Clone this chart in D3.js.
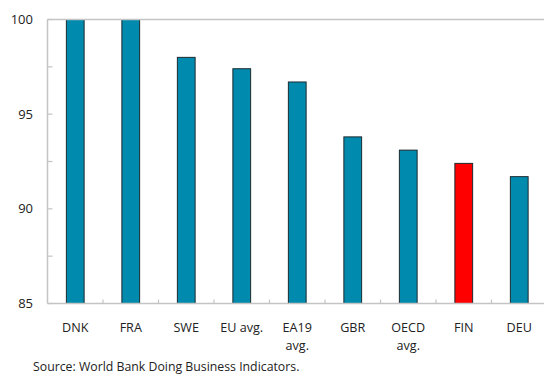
<!DOCTYPE html>
<html lang="en">
<head>
    <meta charset="UTF-8">
    <title>Ranking</title>
    <script src="https://d3js.org/d3.v7.min.js"></script>
    <style>
        body { margin: 0; background: #fff; }
        text { font-family: "Open Sans", sans-serif; fill: #222; }
    </style>
</head>
<body>
    <div id="plot"></div>

    <script>
        // data
        let categories = ['DNK', 'FRA', 'SWE', 'EU avg.', 'EA19 avg.', 'GBR', 'OECD avg.', 'FIN', 'DEU'];
        let values = [100, 100, 98.0, 97.4, 96.7, 93.8, 93.1, 92.4, 91.7];
        let highlight = 'FIN';
        let yTicks = [85, 90, 95, 100];
        let source = 'Source: World Bank Doing Business Indicators.';

        let svgWidth = 544, svgHeight = 375;
        let plotLeft = 47.5, plotRight = 547, plotTop = 19.5, plotBottom = 303.5;

        let svg = d3.select('#plot')
                    .append('svg')
                        .attr('width', svgWidth)
                        .attr('height', svgHeight);

        let x = d3.scaleBand()
                    .domain(categories)
                    .range([plotLeft, plotRight]);

        let y = d3.scaleLinear()
                    .domain([85, 100])
                    .range([plotBottom, plotTop]);

        let barW = x.step() * 0.32;

        svg.selectAll('rect.bar')
            .data(categories)
            .join('rect')
            .attr('class', 'bar')
            .attr('x', d => x(d) + x.bandwidth() / 2 - barW / 2)
            .attr('y', (d, i) => y(values[i]))
            .attr('width', barW)
            .attr('height', (d, i) => y(85) - y(values[i]))
            .attr('fill', d => d == highlight ? '#ff0000' : '#008aad')
            .attr('stroke', '#1c2a30')
            .attr('stroke-width', 1);

        // axis frame
        let axisColor = '#c4c4c4';
        svg.append('line')
            .attr('x1', plotLeft).attr('x2', svgWidth)
            .attr('y1', plotTop).attr('y2', plotTop)
            .attr('stroke', axisColor).attr('stroke-width', 1.5);
        svg.append('line')
            .attr('x1', plotLeft).attr('x2', svgWidth)
            .attr('y1', plotBottom).attr('y2', plotBottom)
            .attr('stroke', axisColor).attr('stroke-width', 1.5);
        svg.append('line')
            .attr('x1', plotLeft).attr('x2', plotLeft)
            .attr('y1', plotTop).attr('y2', plotBottom)
            .attr('stroke', axisColor).attr('stroke-width', 1.5);

        // y ticks, with minor ones in between
        let minor = d3.range(85, 100.01, 2.5);
        svg.selectAll('line.ytick')
            .data(minor)
            .join('line')
            .attr('class', 'ytick')
            .attr('x1', plotLeft).attr('x2', plotLeft + 5)
            .attr('y1', d => y(d)).attr('y2', d => y(d))
            .attr('stroke', axisColor).attr('stroke-width', 1.2);

        svg.selectAll('text.ylab')
            .data(yTicks)
            .join('text')
            .attr('class', 'ylab')
            .attr('x', 33)
            .attr('y', d => y(d))
            .attr('dy', '0.35em')
            .attr('text-anchor', 'end')
            .style('font-size', '13px')
            .text(d => d);

        // x ticks between categories
        svg.selectAll('line.xtick')
            .data(categories.slice(1))
            .join('line')
            .attr('class', 'xtick')
            .attr('x1', d => x(d)).attr('x2', d => x(d))
            .attr('y1', plotBottom).attr('y2', plotBottom - 4)
            .attr('stroke', axisColor).attr('stroke-width', 1.2);

        let xlab = svg.selectAll('text.xlab')
            .data(categories)
            .join('text')
            .attr('class', 'xlab')
            .attr('text-anchor', 'middle')
            .style('font-size', '12.6px')
            .attr('y', 332);

        xlab.each(function(d){
            let words = d.indexOf(' avg.') > 0 && d != 'EU avg.' ? [d.replace(' avg.', ''), 'avg.'] : [d];
            let t = d3.select(this);
            words.forEach((w, i) => {
                t.append('tspan')
                    .attr('x', x(d) + x.bandwidth() / 2)
                    .attr('dy', i == 0 ? 0 : 18)
                    .text(w);
            });
        });

        svg.append('text')
            .attr('x', 33)
            .attr('y', 371)
            .style('font-size', '12.3px')
            .text(source);
    </script>
</body>
</html>
